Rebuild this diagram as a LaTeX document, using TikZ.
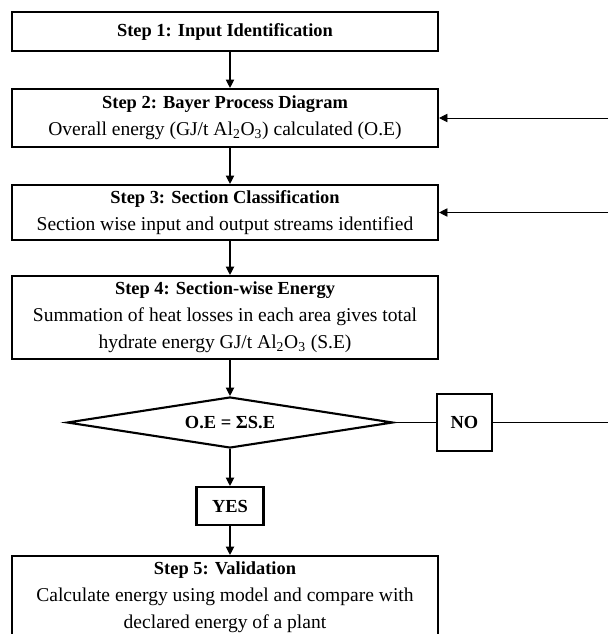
\documentclass[tikz,border=0pt]{standalone}
\usepackage{fontspec}
\setmainfont{Liberation Serif}
\usetikzlibrary{positioning,arrows.meta,shapes.geometric}
\newcommand{\bodytext}{\fontsize{13.9}{19.1}\selectfont}

\begin{document}
\begin{tikzpicture}[
    stepbox/.style={draw, line width=1.5pt, minimum width=10.65cm, align=center,
                    inner sep=2pt, font=\fontsize{13.1}{19.1}\selectfont},
    check/.style={draw, diamond, line width=1.5pt, aspect=6.4, inner sep=0pt,
                  minimum width=8.15cm, minimum height=1.275cm,
                  font=\fontsize{13.1}{19.1}\selectfont\bfseries},
    answer/.style={draw, line width=1.5pt, inner sep=0pt,
                   font=\fontsize{13.1}{19.1}\selectfont\bfseries},
    flow/.style={-{Triangle[length=6pt,width=6pt]}, line width=0.8pt},
    link/.style={line width=0.6pt}
]
    \useasboundingbox (0,0) rectangle (15.2,-15.85);

    % Main column of steps
    \node[stepbox, minimum height=0.975cm] (input) at (5.625,-0.7875)
        {\textbf{Step 1: Input Identification}};
    \node[stepbox, minimum height=1.45cm] (bayer) at (5.625,-2.95)
        {\textbf{Step 2: Bayer Process Diagram}\\
         \bodytext Overall energy (GJ/t Al\textsubscript{2}O\textsubscript{3}) calculated (O.E)};
    \node[stepbox, minimum height=1.375cm] (section) at (5.625,-5.3125)
        {\textbf{Step 3: Section Classification}\\
         \bodytext Section wise input and output streams identified};
    \node[stepbox, minimum height=2.075cm] (energy) at (5.625,-7.9375)
        {\textbf{Step 4: Section-wise Energy}\\
         \bodytext Summation of heat losses in each area gives total\\
         \bodytext hydrate energy GJ/t Al\textsubscript{2}O\textsubscript{3} (S.E)};

    % Decision and its outcomes
    \node[check] (compare) at (5.75,-10.5625) {O.E = ΣS.E};
    \node[answer, minimum width=1.375cm, minimum height=1.425cm] (no)
        at (11.6125,-10.5625) {NO};
    \node[answer, minimum width=1.675cm, minimum height=0.95cm] (yes)
        at (5.75,-12.65) {YES};
    \node[stepbox, minimum height=2.075cm] (valid) at (5.625,-14.9375)
        {\textbf{Step 5: Validation}\\
         \bodytext Calculate energy using model and compare with\\
         \bodytext declared energy of a plant};

    % Right edge where the loop lines leave the picture
    \coordinate (rim) at (15.2,0);

    \draw[flow] (input.south -| compare) -- (bayer.north -| compare);
    \draw[flow] (bayer.south -| compare) -- (section.north -| compare);
    \draw[flow] (section.south -| compare) -- (energy.north -| compare);
    \draw[flow] (energy.south -| compare) -- (compare.north);
    \draw[flow] (compare.south) -- (yes.north);
    \draw[flow] (yes.south) -- (valid.north -| yes);

    \draw[link] (compare.east) -- (no.west);
    \draw[link] (no.east) -- (no.east -| rim);
    \draw[flow, line width=0.6pt] (bayer.east -| rim) -- (bayer.east);
    \draw[flow, line width=0.6pt] (section.east -| rim) -- (section.east);
\end{tikzpicture}
\end{document}
